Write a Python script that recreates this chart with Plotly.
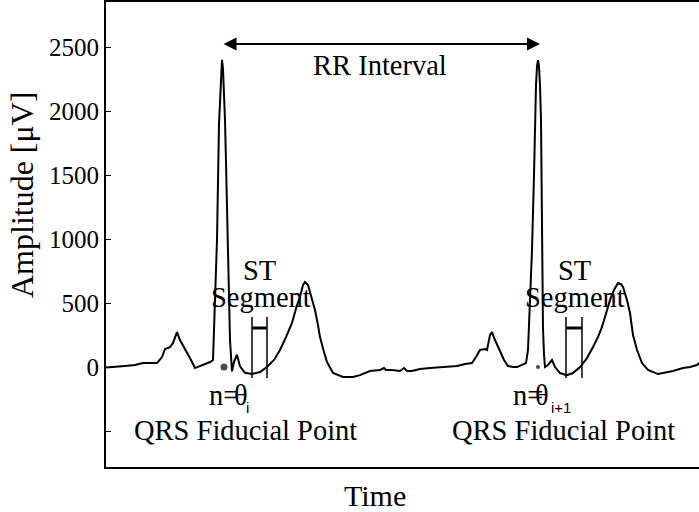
import plotly.graph_objects as go

# ---- data (time in samples, amplitude in microvolts) ----
t = [0, 9, 19, 29, 37, 51, 56, 59, 64, 67, 71, 74, 78, 81, 85, 89, 94, 99, 104, 107,
     108, 110, 111, 113, 114, 115, 116, 117, 118, 119, 120, 122, 124, 126,
     128, 131, 134, 139, 146, 154, 161, 168, 174, 180, 186, 191, 194, 197, 199, 202,
     206, 209, 212, 214, 218, 221, 227, 237, 247, 254, 264, 274, 278, 280, 286, 294,
     298, 301, 306, 314, 324, 334, 344, 351, 359, 366, 370, 374, 379, 381, 384, 386,
     389, 394, 398, 402, 407, 411, 416, 420,
     422, 424, 426, 428, 429, 430, 431, 432, 433, 434, 435, 436, 437, 438, 439,
     442, 446, 449, 454, 461, 467, 474, 481, 487, 492, 496, 500, 504, 508, 512, 515,
     517, 521, 524, 527, 531, 536, 542, 552, 557, 561, 567, 577, 584, 591, 593]
amp = [-4, 0, 8, 16, 31, 31, 78, 141, 156, 188, 273, 211, 156, 109, 55, -8, 8, 23, 39, 55,
       341, 800, 994, 1900, 2100, 2300, 2400, 2330, 2150, 1930, 1600, 992, 211, -34,
       40, 96, 5, -45, -55, -39, 0, 55, 133, 234, 344, 484, 547, 641, 664, 641,
       539, 445, 328, 234, 117, 39, -47, -78, -78, -63, -31, -23, -8, -23, -23, -31,
       -8, -31, -31, -16, -8, 0, 8, 8, 23, 31, 78, 133, 141, 133, 250, 273,
       211, 125, 55, 8, 0, 0, 16, 31,
       133, 500, 914, 1500, 1930, 2200, 2350, 2398, 2350, 2200, 1930, 914, 300, 100, 0,
       16, 55, 0, -47, -63, -47, 0, 70, 156, 234, 313, 422, 523, 602, 656, 648,
       625, 523, 422, 250, 133, 31, -23, -55, -47, -39, -31, -8, 0, 16, 31]

fiducial_t = [118, 432]
fiducial_amp = [0, 0]
fiducial_size = [7, 4]

st_start = [146, 460]
st_end = [161, 476]
st_top = 391
st_bottom = -86
st_bar = 305

rr_start = 116
rr_end = 434
rr_level = 2523

ytick_vals = [-500, 0, 500, 1000, 1500, 2000, 2500]
ytick_text = ["", "0", "500", "1000", "1500", "2000", "2500"]

SERIF = "Liberation Serif"
AFS = 28.5

fig = go.Figure()
fig.add_trace(go.Scatter(x=t, y=amp, mode="lines",
                         line=dict(color="black", width=2), hoverinfo="skip"))
fig.add_trace(go.Scatter(x=fiducial_t, y=fiducial_amp, mode="markers",
                         marker=dict(color="black", size=fiducial_size, line=dict(width=0))))

# ST segment brackets
vx, vy, hx, hy = [], [], [], []
for a, b in zip(st_start, st_end):
    vx += [a, a, None, b, b, None]
    vy += [st_top, st_bottom, None, st_top, st_bottom, None]
    hx += [a, b, None]
    hy += [st_bar, st_bar, None]
fig.add_trace(go.Scatter(x=vx, y=vy, mode="lines", line=dict(color="black", width=1.5)))
fig.add_trace(go.Scatter(x=hx, y=hy, mode="lines", line=dict(color="black", width=3)))

ann = []
# RR interval arrow
ann.append(dict(x=rr_end, y=rr_level, ax=rr_start, ay=rr_level, xref="x", yref="y",
                axref="x", ayref="y", showarrow=True, arrowhead=2, arrowside="end+start",
                arrowsize=1.3, arrowwidth=2, arrowcolor="black", text=""))
ann.append(dict(x=274, y=2359, xref="x", yref="y", text="RR Interval", showarrow=False,
                font=dict(family=SERIF, size=AFS, color="black")))
for i, (a, b) in enumerate(zip(st_start, st_end)):
    c = (a + b) / 2
    ann.append(dict(x=c, y=758, xref="x", yref="y", text="ST", showarrow=False,
                    font=dict(family=SERIF, size=AFS, color="black")))
    ann.append(dict(x=c + 1, y=547, xref="x", yref="y", text="Segment", showarrow=False,
                    font=dict(family=SERIF, size=AFS, color="black")))

n_eq_x = [117.5, 422]
theta_x = [134.5, 435.5]
sub_x = [141.5, 455]
sub_text = ["i", "i+1"]
qrs_x = [139.5, 457.5]
for k in range(2):
    ann.append(dict(x=n_eq_x[k], y=-219, xref="x", yref="y", text="n=", showarrow=False,
                    font=dict(family=SERIF, size=AFS, color="black")))
    ann.append(dict(x=theta_x[k], y=-219, xref="x", yref="y", text="θ", showarrow=False,
                    font=dict(family=SERIF, size=AFS, color="black")))
    ann.append(dict(x=sub_x[k], y=-318, xref="x", yref="y", text=sub_text[k], showarrow=False,
                    font=dict(family="Liberation Sans", size=15, color="black")))
    ann.append(dict(x=qrs_x[k], y=-492, xref="x", yref="y", text="QRS Fiducial Point",
                    showarrow=False, font=dict(family=SERIF, size=AFS, color="black")))

ann.append(dict(x=(375 - 106) / 593, y=(467 - 495) / 465, xref="paper", yref="paper",
                xanchor="center", yanchor="middle",
                text="Time", showarrow=False, font=dict(family=SERIF, size=30, color="black")))
ann.append(dict(x=(22 - 106) / 593, y=(467 - 195) / 465, xref="paper", yref="paper",
                xanchor="center", yanchor="middle",
                text="Amplitude [μV]", textangle=-90, showarrow=False,
                font=dict(family=SERIF, size=32, color="black")))

fig.update_layout(
    width=699, height=512,
    margin=dict(l=106, r=0, t=2, b=45),
    paper_bgcolor="white", plot_bgcolor="white",
    showlegend=False,
    annotations=ann,
    xaxis=dict(range=[0, 593], showline=True, mirror=True, linecolor="black", linewidth=2,
               showticklabels=False, ticks="", showgrid=False, zeroline=False),
    yaxis=dict(range=[-781, 2852], showline=True, mirror=False, linecolor="black", linewidth=2,
               tickvals=ytick_vals, ticktext=ytick_text, ticks="inside", ticklen=5,
               tickwidth=1, tickcolor="black", showgrid=False, zeroline=False,
               tickfont=dict(family=SERIF, size=25, color="black")),
)

fig.write_html("out.html")
